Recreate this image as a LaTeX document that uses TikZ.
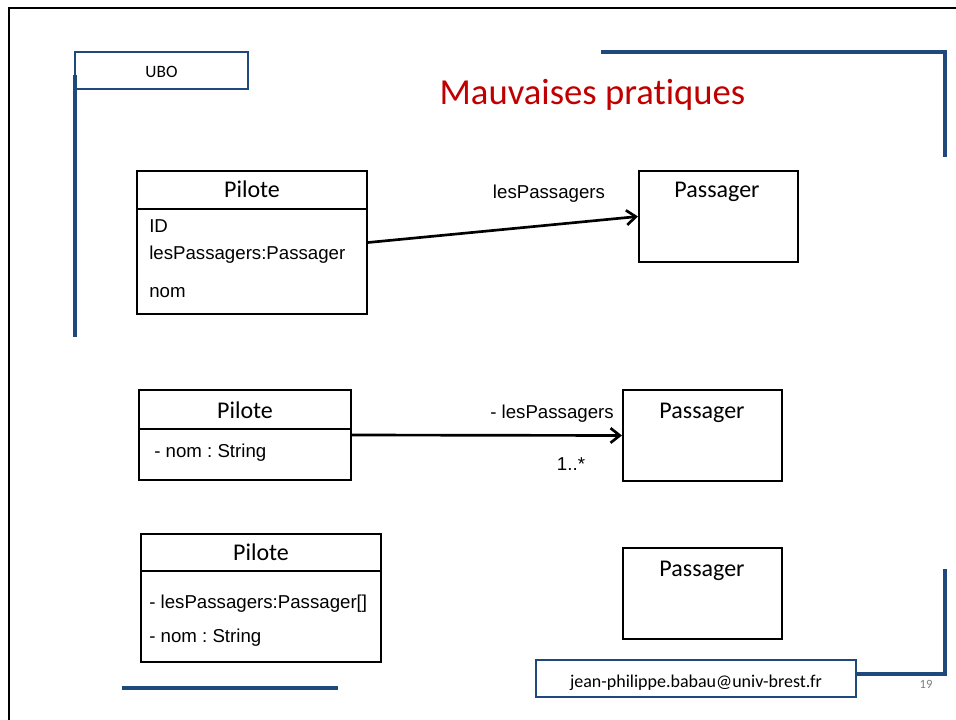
\documentclass[tikz,border=0pt]{standalone}
\usepackage{fontspec}
\setmainfont{Carlito}[Ligatures={NoCommon,TeX}]
\newfontfamily\arialf{Liberation Sans}
\usetikzlibrary{arrows.meta}
\definecolor{ubob}{RGB}{31,73,125}
\definecolor{titred}{RGB}{192,0,0}
\frenchspacing
\begin{document}
\begin{tikzpicture}[x=0.75pt,y=-0.75pt,
  cls/.style={draw=black,line width=1.5pt,rectangle,inner sep=0pt},
  hdr/.style={anchor=base,font=\fontsize{18}{20}\selectfont,inner sep=0pt},
  attr/.style={anchor=base west,font=\arialf\fontsize{14}{16}\selectfont,inner sep=0pt},
  lbl/.style={anchor=base,font=\arialf\fontsize{14}{16}\selectfont,inner sep=0pt},
  bluebox/.style={draw=ubob,line width=1.6pt,rectangle,inner sep=0pt},
  blueline/.style={draw=ubob,line width=2.3pt},
  assoc/.style={draw=black,line width=2pt,-{Straight Barb[length=7pt,width=11pt,line width=2pt]}}]
\useasboundingbox (0,0) rectangle (956,720);
% outer frame
\draw[line width=1.6pt] (9,720) -- (9,8) -- (956,8);
% decorative blue lines
\draw[blueline] (75,75) -- (75,337);
\draw[blueline] (601,52) -- (945,52) -- (945,157);
\draw[blueline] (122,688) -- (338,688);
\draw[blueline] (856,674) -- (945,674) -- (945,569);
% UBO box
\node[bluebox,minimum width=129.75pt,minimum height=27.75pt] (ubo) at (161.5,70.5) {};
\node[anchor=base,font=\fontsize{13}{15}\selectfont,inner sep=0pt] (ubot) at (161.5,78) {UBO};
% title
\node[anchor=base,text=titred,font=\fontsize{27.5}{32}\selectfont,inner sep=0pt] (title) at (592.5,105) {Mauvaises pratiques};
% ---- first example
\node[cls,minimum width=172.5pt,minimum height=107.25pt] (p1) at (252,242.5) {};
\draw[line width=1.5pt] (p1.west |- {(0,209)}) -- (p1.east |- {(0,209)});
\node[hdr] (p1h) at (252,198) {Pilote};
\node[attr] (p1a) at (149,233) {ID};
\node[attr] (p1b) at (149,260) {lesPassagers:Passager};
\node[attr] (p1c) at (149,297) {nom};
\node[cls,minimum width=119.25pt,minimum height=68.25pt] (pa1) at (718.5,216.5) {};
\node[hdr] (pa1h) at (717,198) {Passager};
\draw[assoc] (p1.east) -- (pa1.west);
\node[lbl] (l1) at (549,199) {lesPassagers};
% ---- second example
\node[cls,minimum width=159pt,minimum height=67.5pt] (p2) at (245,435) {};
\draw[line width=1.5pt] (p2.west |- {(0,429)}) -- (p2.east |- {(0,429)});
\node[hdr] (p2h) at (245,418) {Pilote};
\node[attr] (p2a) at (154,457) {- nom : String};
\node[cls,minimum width=119.25pt,minimum height=68.25pt] (pa2) at (702.5,435.5) {};
\node[hdr] (pa2h) at (702,418) {Passager};
\draw[assoc] (p2.east) -- (pa2.west);
\node[lbl] (l2) at (552,418) {- lesPassagers};
\node[lbl] (l3) at (571,470) {1..*};
% ---- third example
\node[cls,minimum width=180pt,minimum height=96pt] (p3) at (261,598) {};
\draw[line width=1.5pt] (p3.west |- {(0,571)}) -- (p3.east |- {(0,571)});
\node[hdr] (p3h) at (261,560) {Pilote};
\node[attr] (p3a) at (149,608) {- lesPassagers:Passager[]};
\node[attr] (p3b) at (149,642) {- nom : String};
\node[cls,minimum width=119.25pt,minimum height=68.25pt] (pa3) at (702.5,593.5) {};
\node[hdr] (pa3h) at (702,576) {Passager};
% footer
\node[bluebox,minimum width=240pt,minimum height=27.75pt] (mail) at (696,678.5) {};
\node[anchor=base,font=\fontsize{13.5}{15}\selectfont,inner sep=0pt] (mailt) at (696,687) {jean-philippe.babau@univ-brest.fr};
\node[anchor=base,text=gray,font=\fontsize{9.5}{11}\selectfont,inner sep=0pt] (pg) at (926,688) {19};
\end{tikzpicture}
\end{document}
